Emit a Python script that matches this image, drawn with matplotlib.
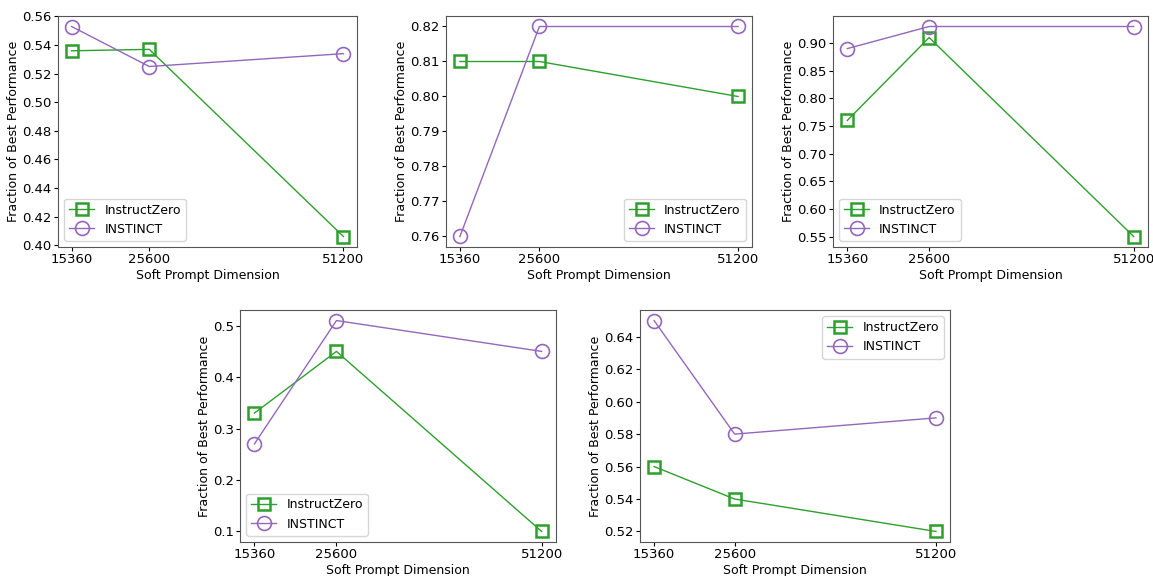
import matplotlib
matplotlib.use('Agg')
import matplotlib.pyplot as plt
import numpy as np

dims = [15360, 25600, 51200]
dim_labels = ['15360', '25600', '51200']

# one entry per panel
instructzero = [
	[0.536, 0.537, 0.406],
	[0.81, 0.81, 0.80],
	[0.76, 0.91, 0.55],
	[0.33, 0.45, 0.10],
	[0.56, 0.54, 0.52],
]
instinct = [
	[0.553, 0.525, 0.534],
	[0.76, 0.82, 0.82],
	[0.89, 0.93, 0.93],
	[0.27, 0.51, 0.45],
	[0.65, 0.58, 0.59],
]
# y ticks per panel (start, stop, step)
ytick_specs = [
	(0.40, 0.56, 0.02),
	(0.76, 0.82, 0.01),
	(0.55, 0.90, 0.05),
	(0.1, 0.5, 0.1),
	(0.52, 0.64, 0.02),
]
ytick_fmt = ['%.2f', '%.2f', '%.2f', '%.1f', '%.2f']
legend_locs = ['lower left', 'lower right', 'lower left', 'lower left', 'upper right']

# axes boxes in pixels (left, top, right, bottom)
W, H = 1153, 576
boxes = [
	(58, 16, 357, 247),
	(446, 16, 752, 247),
	(833, 16, 1148, 247),
	(240, 310, 556, 542),
	(640, 310, 950, 542),
]

plt.rcParams['font.size'] = 9
plt.rcParams['xtick.labelsize'] = 9.5
plt.rcParams['ytick.labelsize'] = 9.5
plt.rcParams['xtick.major.size'] = 3
plt.rcParams['ytick.major.size'] = 3
plt.rcParams['xtick.major.pad'] = 1.5
plt.rcParams['ytick.major.pad'] = 1.5
fig = plt.figure(figsize=(W / 100, H / 100), dpi=100)

for i, (l, t, r, b) in enumerate(boxes):
	ax = fig.add_axes([l / W, 1 - b / H, (r - l) / W, (b - t) / H])
	ax.plot(dims, instructzero[i], color='#2ca02c', marker='s', markersize=9,
		markerfacecolor='none', markeredgewidth=1.8, linewidth=1, label='InstructZero')
	ax.plot(dims, instinct[i], color='#9467bd', marker='o', markersize=10,
		markerfacecolor='none', markeredgewidth=1.2, linewidth=1, label='INSTINCT')
	ax.set_xticks(dims)
	ax.set_xticklabels(dim_labels)
	lo, hi, st = ytick_specs[i]
	ticks = np.arange(lo, hi + st / 2, st)
	ax.set_yticks(ticks)
	ax.set_yticklabels([ytick_fmt[i] % v for v in ticks])
	ax.set_xlabel('Soft Prompt Dimension', labelpad=2)
	ax.set_ylabel('Fraction of Best Performance', labelpad=1.5)
	for s in ax.spines.values():
		s.set_color('#555555')
	ax.legend(loc=legend_locs[i])

plt.savefig('out.png', dpi=100)
